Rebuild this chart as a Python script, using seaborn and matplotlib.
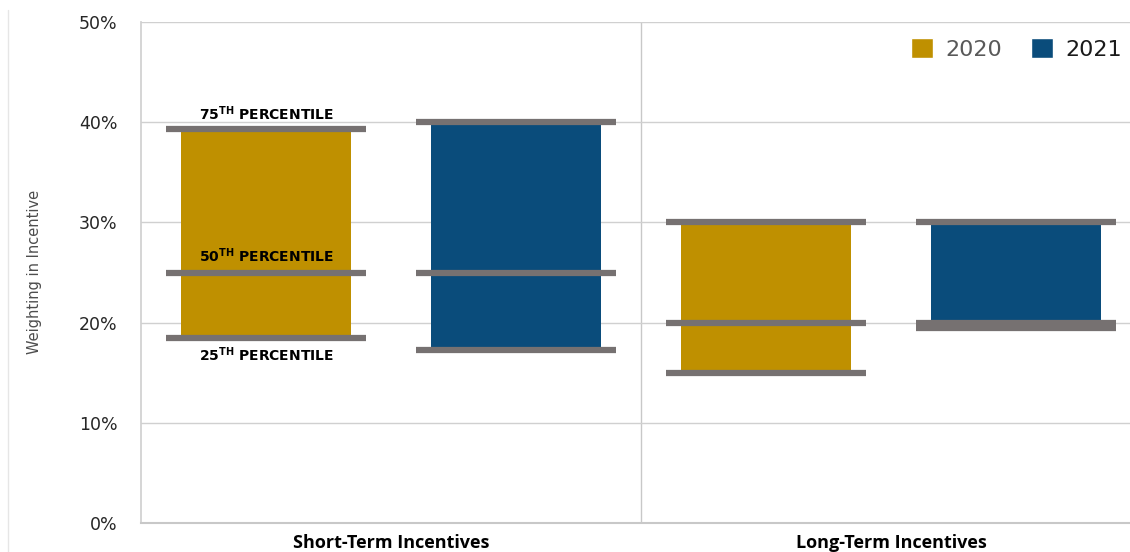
import pandas as pd
import numpy as np
from matplotlib import pyplot as plt
from matplotlib.lines import Line2D
import seaborn as sns

# values (percent)
categories = ["Short-Term Incentives", "Long-Term Incentives"]
years = ["2020", "2021"]
p25 = [18.5, 17.3, 15.0, 19.5]
p50 = [25.0, 25.0, 20.0, 20.0]
p75 = [39.3, 40.0, 30.0, 30.0]
yticks = [0, 10, 20, 30, 40, 50]

df = pd.DataFrame({
    "category": [c for c in categories for y in years],
    "year": years * 2,
    "p25": p25, "p50": p50, "p75": p75,
})

colors = {"2020": "#BF9000", "2021": "#0A4C7B"}
line_col = "#767171"

sns.set_theme(style="white")
plt.rcParams["font.family"] = ["DejaVu Sans"]

fig = plt.figure(figsize=(11.30, 5.52), dpi=100)
ax = fig.add_axes([141 / 1130, 29 / 552, 1000 / 1130, 501 / 552])

sns.barplot(data=df, x="category", y="p75", hue="year", palette=colors,
            width=1.0, gap=0.32, ax=ax, legend=True, saturation=1)

# make the bars float from 25th to 75th percentile and add percentile lines
for cont, yr in zip(ax.containers, years):
    for bar, cat in zip(cont, categories):
        row = df[(df.category == cat) & (df.year == yr)].iloc[0]
        bar.set_y(row.p25)
        bar.set_height(row.p75 - row.p25)
        bar.set_edgecolor("none")
        cx = bar.get_x() + bar.get_width() / 2
        for v in (row.p25, row.p50, row.p75):
            ax.hlines(v, cx - 0.2, cx + 0.2, color=line_col, lw=4.5, zorder=4)

# percentile labels on the first bar
first = ax.containers[0][0]
r0 = df.iloc[0]
lx = first.get_x() + first.get_width() / 2
lab_kw = dict(ha="center", fontsize=10, fontweight="bold", color="black", zorder=5)
ax.text(lx, r0.p75 + 0.6, r"75$^{\bf TH}$ PERCENTILE", va="bottom", **lab_kw)
ax.text(lx, r0.p50 + 0.7, r"50$^{\bf TH}$ PERCENTILE", va="bottom", **lab_kw)
ax.text(lx, r0.p25 - 0.8, r"25$^{\bf TH}$ PERCENTILE", va="top", **lab_kw)

ax.set_xlim(-0.5, 1.5)
ax.set_ylim(0, 50)
ax.set_yticks(yticks)
ax.set_yticklabels([f"{t}%" for t in yticks], fontsize=12.5, color="#262626")
ax.tick_params(axis="y", length=0, pad=17)
ax.tick_params(axis="x", length=0, pad=8)
for lab in ax.get_xticklabels():
    lab.set_fontfamily(["Open Sans", "DejaVu Sans"])
    lab.set_fontweight("bold")
    lab.set_fontsize(13)
    lab.set_color("black")
ax.set_xlabel("")
ax.set_ylabel("")
ax.yaxis.grid(True, color="#d0d0d0", lw=1)
ax.set_axisbelow(True)
ax.axvline(0.5, color="#c8c8c8", lw=1, zorder=0)

for s in ["top", "right"]:
    ax.spines[s].set_visible(False)
ax.spines["left"].set_color("#d0d0d0")
ax.spines["bottom"].set_color("#c8c8c8")
ax.spines["bottom"].set_linewidth(1.5)

leg = ax.legend(loc="upper right", bbox_to_anchor=(990 / 1000, 0.985), ncol=2,
                frameon=False, fontsize=16, handlelength=1.0, handleheight=1.0,
                handletextpad=0.55, columnspacing=1.3, borderaxespad=0)
for t, c in zip(leg.get_texts(), ["#595959", "#1a1a1a"]):
    t.set_color(c)

fig.text(35 / 1130, 1 - 272 / 552, "Weighting in Incentive", rotation=90,
         ha="center", va="center", fontsize=10.5, color="#4d4d4d",
         family=["Liberation Sans Narrow", "DejaVu Sans"])

fig.add_artist(Line2D([8 / 1130, 8 / 1130], [0, 1 - 10 / 552],
                      transform=fig.transFigure, color="#e6e6e6", lw=1))

fig.savefig("out.png", dpi=100)
